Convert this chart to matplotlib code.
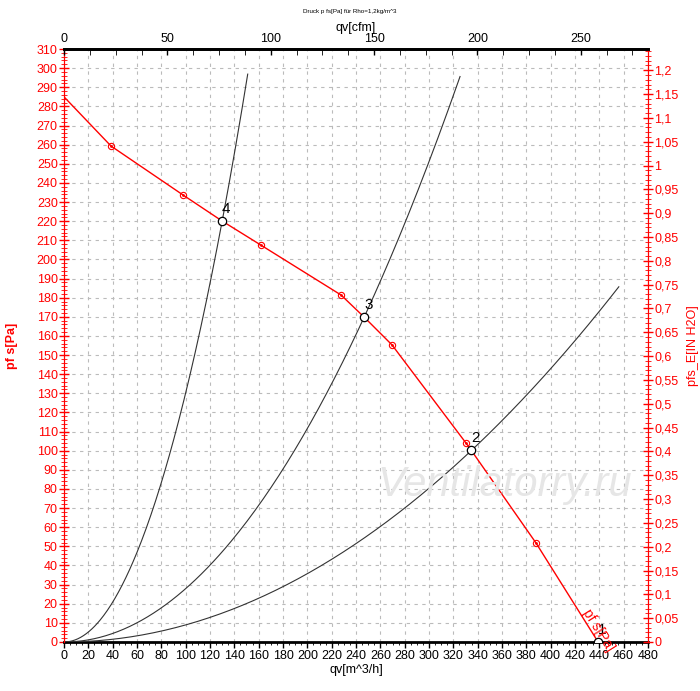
import matplotlib.pyplot as plt
import matplotlib.ticker as mt
import numpy as np

plt.rcParams['font.family'] = ['Liberation Sans', 'DejaVu Sans']

# fan curve (m^3/h, Pa)
fan_q = [0, 38.6, 97.8, 129.9, 161.8, 227.7, 246.6, 269.6, 330.4, 334.5, 387.9, 439]
fan_p = [285, 259.3, 233.7, 220.1, 207.5, 181.4, 169.9, 155.3, 104, 100.4, 51.8, 0]
# measured markers on the fan curve
mark_q = [38.6, 97.8, 161.8, 227.7, 269.6, 330.4, 387.9]
mark_p = [259.3, 233.7, 207.5, 181.4, 155.3, 104, 51.8]
# operating points
op_q = [439, 334.5, 246.6, 129.9]
op_p = [0, 100.4, 169.9, 220.1]
op_lab = ['1', '2', '3', '4']
# system curves p = k*q^2, and their end flow
sys_k = [0.000893, 0.00279, 0.01302]
sys_end = [456, 325.5, 151]

CFM = 1.69901      # m^3/h per cfm
INH2O = 249.089    # Pa per inch H2O

fig = plt.figure(figsize=(7, 6.91), dpi=100)
ax = fig.add_axes([64/700, 1-642/691, 584/700, 593/691])
ax.set_xlim(0, 480)
ax.set_ylim(0, 310)

for k, qe in zip(sys_k, sys_end):
    q = np.linspace(0, qe, 200)
    ax.plot(q, k*q**2, color='#333333', lw=0.8, zorder=3)

ax.plot(fan_q, fan_p, color='red', lw=1.0, zorder=4)
ax.plot(mark_q, mark_p, 'o', ms=4.5, mfc='none', mec='red', mew=0.8, zorder=5)
ax.plot(mark_q, mark_p, '.', ms=2, color='red', zorder=5)
ax.plot(op_q, op_p, 'o', ms=6, mfc='white', mec='black', mew=0.9, zorder=6)
for q, p, t in zip(op_q, op_p, op_lab):
    ax.text(q, p + 2.5, t, fontsize=11, ha='left', va='bottom', zorder=7)

ax.text(434, 4, 'pf s[Pa]', color='red', fontsize=10, rotation=-58,
        ha='center', va='bottom', rotation_mode='anchor', zorder=7)

fig.text(505/700, 1-485/691, 'Ventilatorry.ru', fontsize=30,
         style='italic', color='#e6e6e6', ha='center', va='center', zorder=0)

ax.xaxis.set_major_locator(mt.MultipleLocator(20))
ax.xaxis.set_minor_locator(mt.MultipleLocator(5))
ax.yaxis.set_major_locator(mt.MultipleLocator(10))
ax.yaxis.set_minor_locator(mt.MultipleLocator(2))
ax.grid(True, which='major', color='#bbbbbb', ls=(0, (3, 4)), lw=0.8)
ax.tick_params(axis='x', labelsize=9, direction='out', length=4, width=1, pad=2)
ax.tick_params(axis='x', which='minor', direction='out', length=2)
ax.tick_params(axis='y', labelsize=9, colors='red', direction='inout', length=7, width=1, pad=1)
ax.tick_params(axis='y', which='minor', colors='red', direction='inout', length=4)
ax.spines['left'].set_color('red')
ax.spines['right'].set_color('red')
ax.spines['bottom'].set_linewidth(2)
ax.spines['top'].set_linewidth(2)
ax.set_xlabel('qv[m^3/h]', fontsize=9, labelpad=1)
ax.set_ylabel('pf s[Pa]', fontsize=9, color='red', fontweight='bold')
ax.yaxis.set_label_coords(-64/584 + 18/584, 0.5)
ax.patch.set_alpha(0)

# right axis in inch H2O
axr = ax.twinx()
axr.set_ylim(0, 310/INH2O)
axr.yaxis.set_major_locator(mt.MultipleLocator(0.05))
axr.yaxis.set_minor_locator(mt.MultipleLocator(0.01))
axr.yaxis.set_major_formatter(mt.FuncFormatter(
    lambda v, p: ('%.2f' % v).rstrip('0').rstrip('.').replace('.', ',')))
axr.tick_params(axis='y', labelsize=9, colors='red', direction='inout', length=7, width=1, pad=1)
axr.tick_params(axis='y', which='minor', colors='red', direction='inout', length=4)
for s in ['left', 'right']:
    axr.spines[s].set_color('red')
axr.spines['top'].set_visible(False)
axr.spines['bottom'].set_visible(False)
axr.set_ylabel('pfs_E[IN H2O]', fontsize=9, color='red')
axr.yaxis.set_label_coords(1 + 39/584, 0.5)

# top axis in cfm
axt = ax.twiny()
axt.set_xlim(0, 480/CFM)
axt.xaxis.set_major_locator(mt.MultipleLocator(50))
axt.xaxis.set_minor_locator(mt.MultipleLocator(12.5))
axt.tick_params(axis='x', labelsize=9, direction='in', length=4, width=1, pad=3)
axt.tick_params(axis='x', which='minor', direction='in', length=4)
for s in ['left', 'right', 'bottom']:
    axt.spines[s].set_visible(False)
axt.spines['top'].set_linewidth(2)
axt.set_xlabel('qv[cfm]', fontsize=9, labelpad=1)

fig.text(0.5, 1-11/691, 'Druck p fs[Pa] für Rho=1,2kg/m^3', fontsize=4.5, ha='center', va='center')

fig.savefig('out.png', dpi=100)
